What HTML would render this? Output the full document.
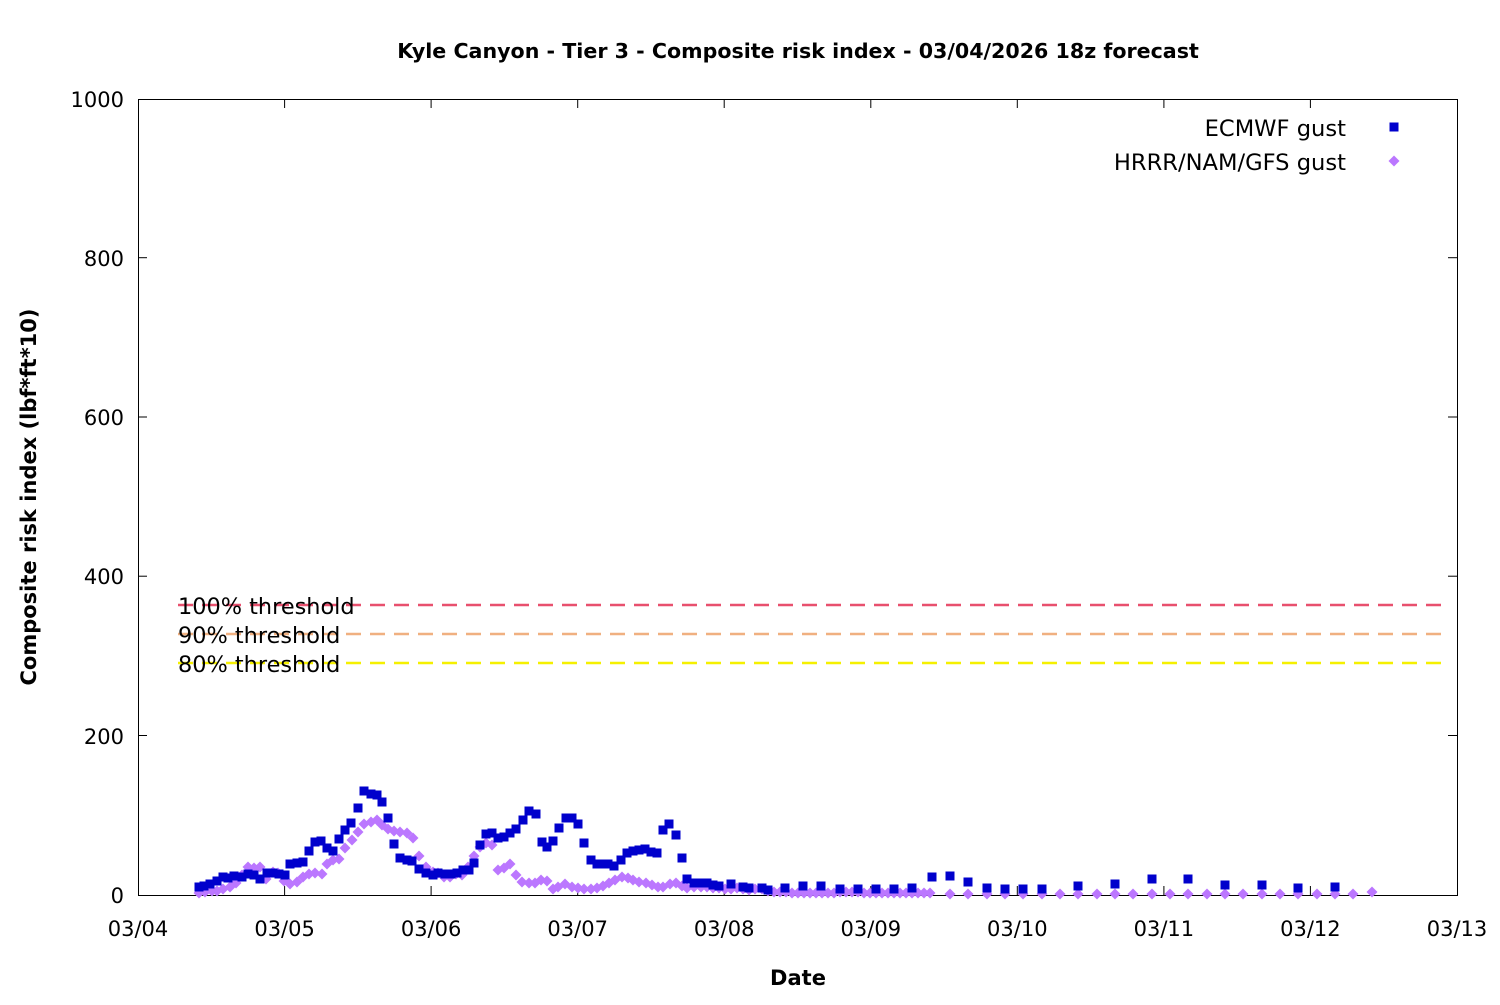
<!DOCTYPE html>
<html><head><meta charset="utf-8"><style>
html,body{margin:0;padding:0;background:#fff}
svg text{font-family:"DejaVu Sans","Liberation Sans",sans-serif}
</style></head><body>
<svg width="1500" height="1000" xmlns="http://www.w3.org/2000/svg">
<defs>
<rect id="s" x="-4.5" y="-4.5" width="9" height="9" fill="#0000cc"/>
<polygon id="d" points="0,-5.5 5.5,0 0,5.5 -5.5,0" fill="#bb77ff"/>
</defs>
<text x="798" y="58" text-anchor="middle" font-size="20.6" font-weight="bold">Kyle Canyon - Tier 3 - Composite risk index - 03/04/2026 18z forecast</text>
<rect x="138.5" y="99.5" width="1319" height="796" fill="none" stroke="#000" stroke-width="1"/>
<g stroke="#000" stroke-width="1">
<line x1="138" y1="257.7" x2="147" y2="257.7"/><line x1="1448" y1="257.7" x2="1457" y2="257.7"/>
<line x1="138" y1="417" x2="147" y2="417"/><line x1="1448" y1="417" x2="1457" y2="417"/>
<line x1="138" y1="576.2" x2="147" y2="576.2"/><line x1="1448" y1="576.2" x2="1457" y2="576.2"/>
<line x1="138" y1="735.5" x2="147" y2="735.5"/><line x1="1448" y1="735.5" x2="1457" y2="735.5"/>
<line x1="284.6" y1="886" x2="284.6" y2="895"/><line x1="284.6" y1="99" x2="284.6" y2="108"/>
<line x1="431.1" y1="886" x2="431.1" y2="895"/><line x1="431.1" y1="99" x2="431.1" y2="108"/>
<line x1="577.7" y1="886" x2="577.7" y2="895"/><line x1="577.7" y1="99" x2="577.7" y2="108"/>
<line x1="724.2" y1="886" x2="724.2" y2="895"/><line x1="724.2" y1="99" x2="724.2" y2="108"/>
<line x1="870.8" y1="886" x2="870.8" y2="895"/><line x1="870.8" y1="99" x2="870.8" y2="108"/>
<line x1="1017.3" y1="886" x2="1017.3" y2="895"/><line x1="1017.3" y1="99" x2="1017.3" y2="108"/>
<line x1="1163.9" y1="886" x2="1163.9" y2="895"/><line x1="1163.9" y1="99" x2="1163.9" y2="108"/>
<line x1="1310.4" y1="886" x2="1310.4" y2="895"/><line x1="1310.4" y1="99" x2="1310.4" y2="108"/>
</g>
<g font-size="21" text-anchor="end">
<text x="124" y="107">1000</text><text x="124" y="266">800</text><text x="124" y="425">600</text>
<text x="124" y="584">400</text><text x="124" y="744">200</text><text x="124" y="903">0</text>
</g>
<g font-size="21" text-anchor="middle">
<text x="138" y="936">03/04</text><text x="284.6" y="936">03/05</text><text x="431.1" y="936">03/06</text>
<text x="577.7" y="936">03/07</text><text x="724.2" y="936">03/08</text><text x="870.8" y="936">03/09</text>
<text x="1017.3" y="936">03/10</text><text x="1163.9" y="936">03/11</text><text x="1310.4" y="936">03/12</text>
<text x="1457" y="936">03/13</text>
</g>
<text x="798" y="985" text-anchor="middle" font-size="21" font-weight="bold">Date</text>
<text transform="translate(36,497) rotate(-90)" text-anchor="middle" font-size="21" font-weight="bold">Composite risk index (lbf*ft*10)</text>
<g font-size="22.6" text-anchor="end">
<text x="1346" y="136">ECMWF gust</text><text x="1346" y="170">HRRR/NAM/GFS gust</text>
</g>
<use href="#s" x="1394" y="127"/><use href="#d" x="1394" y="161"/>
<g stroke-width="2.5" stroke-dasharray="15,9" fill="none">
<line x1="178" y1="605" x2="1442" y2="605" stroke="#e8506e"/>
<line x1="178" y1="634" x2="1442" y2="634" stroke="#f0b080"/>
<line x1="178" y1="663" x2="1442" y2="663" stroke="#f5f000"/>
</g>
<g font-size="22.4">
<text x="178" y="614">100% threshold</text><text x="178" y="643">90% threshold</text><text x="178" y="672">80% threshold</text>
</g>
<g>
<use href="#d" x="199" y="893"/><use href="#d" x="205" y="892"/><use href="#d" x="212" y="891"/><use href="#d" x="217" y="891"/><use href="#d" x="223" y="889"/><use href="#d" x="230" y="887"/><use href="#d" x="236" y="883"/><use href="#d" x="242" y="875"/><use href="#d" x="248" y="867"/><use href="#d" x="254" y="868"/><use href="#d" x="260" y="867"/><use href="#d" x="266" y="879"/><use href="#d" x="273" y="872"/><use href="#d" x="278" y="873"/><use href="#d" x="284" y="881"/><use href="#d" x="290" y="884"/><use href="#d" x="297" y="882"/><use href="#d" x="303" y="877"/><use href="#d" x="309" y="874"/><use href="#d" x="315" y="873"/><use href="#d" x="322" y="874"/><use href="#d" x="327" y="864"/><use href="#d" x="333" y="860"/><use href="#d" x="339" y="859"/><use href="#d" x="345" y="848"/><use href="#d" x="352" y="840"/><use href="#d" x="358" y="832"/><use href="#d" x="364" y="824"/><use href="#d" x="371" y="822"/><use href="#d" x="377" y="820"/><use href="#d" x="382" y="825"/><use href="#d" x="388" y="829"/><use href="#d" x="394" y="831"/><use href="#d" x="400" y="832"/><use href="#d" x="407" y="833"/><use href="#d" x="413" y="838"/><use href="#d" x="419" y="856"/><use href="#d" x="426" y="867"/><use href="#d" x="433" y="872"/>
<use href="#d" x="438" y="873"/><use href="#d" x="444" y="877"/><use href="#d" x="450" y="877"/><use href="#d" x="456" y="874"/><use href="#d" x="462" y="875"/><use href="#d" x="468" y="867"/><use href="#d" x="474" y="856"/><use href="#d" x="480" y="847"/><use href="#d" x="486" y="843"/><use href="#d" x="492" y="845"/><use href="#d" x="498" y="870"/><use href="#d" x="504" y="868"/><use href="#d" x="510" y="864"/><use href="#d" x="516" y="875"/><use href="#d" x="522" y="882"/><use href="#d" x="529" y="883"/><use href="#d" x="535" y="883"/><use href="#d" x="541" y="880"/><use href="#d" x="547" y="881"/><use href="#d" x="553" y="889"/><use href="#d" x="558" y="887"/><use href="#d" x="565" y="884"/><use href="#d" x="572" y="887"/><use href="#d" x="578" y="888"/><use href="#d" x="584" y="889"/><use href="#d" x="591" y="889"/><use href="#d" x="597" y="888"/><use href="#d" x="603" y="886"/><use href="#d" x="609" y="883"/><use href="#d" x="615" y="880"/><use href="#d" x="622" y="877"/><use href="#d" x="628" y="878"/><use href="#d" x="633" y="880"/><use href="#d" x="639" y="882"/><use href="#d" x="646" y="883"/><use href="#d" x="652" y="885"/><use href="#d" x="658" y="887"/><use href="#d" x="663" y="887"/><use href="#d" x="670" y="884"/><use href="#d" x="676" y="883"/><use href="#d" x="682" y="886"/><use href="#d" x="687" y="888"/><use href="#d" x="694" y="887"/><use href="#d" x="701" y="887"/><use href="#d" x="707" y="887"/>
<use href="#d" x="713" y="888"/><use href="#d" x="719" y="888"/><use href="#d" x="725" y="889"/><use href="#d" x="731" y="889"/><use href="#d" x="737" y="888"/><use href="#d" x="743" y="889"/><use href="#d" x="749" y="890"/><use href="#d" x="755" y="889"/><use href="#d" x="762" y="889"/><use href="#d" x="768" y="891"/><use href="#d" x="774" y="892"/><use href="#d" x="780" y="892"/><use href="#d" x="786" y="892"/><use href="#d" x="792" y="893"/><use href="#d" x="798" y="893"/><use href="#d" x="804" y="893"/><use href="#d" x="810" y="893"/><use href="#d" x="816" y="893"/><use href="#d" x="822" y="893"/><use href="#d" x="828" y="893"/><use href="#d" x="834" y="893"/><use href="#d" x="840" y="892"/><use href="#d" x="846" y="892"/><use href="#d" x="852" y="892"/><use href="#d" x="858" y="892"/><use href="#d" x="864" y="893"/><use href="#d" x="870" y="893"/><use href="#d" x="876" y="893"/><use href="#d" x="882" y="893"/><use href="#d" x="888" y="893"/><use href="#d" x="894" y="893"/><use href="#d" x="900" y="893"/><use href="#d" x="906" y="893"/><use href="#d" x="912" y="893"/><use href="#d" x="918" y="893"/><use href="#d" x="924" y="893"/><use href="#d" x="930" y="893"/>
<use href="#d" x="950" y="894"/><use href="#d" x="968" y="894"/><use href="#d" x="987" y="894"/><use href="#d" x="1005" y="894"/><use href="#d" x="1023" y="894"/><use href="#d" x="1042" y="894"/><use href="#d" x="1060" y="894"/><use href="#d" x="1078" y="894"/><use href="#d" x="1097" y="894"/><use href="#d" x="1115" y="894"/><use href="#d" x="1133" y="894"/><use href="#d" x="1152" y="894"/><use href="#d" x="1170" y="894"/><use href="#d" x="1188" y="894"/><use href="#d" x="1207" y="894"/><use href="#d" x="1225" y="894"/><use href="#d" x="1243" y="894"/><use href="#d" x="1262" y="894"/><use href="#d" x="1280" y="894"/><use href="#d" x="1298" y="894"/><use href="#d" x="1317" y="894"/><use href="#d" x="1335" y="894"/><use href="#d" x="1353" y="894"/><use href="#d" x="1372" y="892"/>
</g>
<g>
<use href="#s" x="199" y="887"/><use href="#s" x="204" y="886"/><use href="#s" x="210" y="884"/><use href="#s" x="217" y="881"/><use href="#s" x="223" y="877"/><use href="#s" x="228" y="878"/><use href="#s" x="234" y="876"/><use href="#s" x="242" y="877"/><use href="#s" x="248" y="874"/><use href="#s" x="254" y="875"/><use href="#s" x="260" y="879"/><use href="#s" x="267" y="873"/><use href="#s" x="273" y="873"/><use href="#s" x="279" y="874"/><use href="#s" x="285" y="875"/><use href="#s" x="290" y="864"/><use href="#s" x="297" y="863"/><use href="#s" x="303" y="862"/><use href="#s" x="309" y="851"/><use href="#s" x="315" y="842"/><use href="#s" x="321" y="841"/><use href="#s" x="327" y="848"/><use href="#s" x="333" y="851"/><use href="#s" x="339" y="839"/><use href="#s" x="345" y="830"/><use href="#s" x="351" y="823"/><use href="#s" x="358" y="808"/><use href="#s" x="364" y="791"/><use href="#s" x="371" y="794"/><use href="#s" x="377" y="795"/><use href="#s" x="382" y="802"/><use href="#s" x="388" y="818"/><use href="#s" x="394" y="844"/><use href="#s" x="400" y="858"/><use href="#s" x="407" y="860"/><use href="#s" x="412" y="861"/><use href="#s" x="419" y="869"/><use href="#s" x="426" y="873"/><use href="#s" x="433" y="875"/>
<use href="#s" x="438" y="873"/><use href="#s" x="445" y="874"/><use href="#s" x="451" y="874"/><use href="#s" x="457" y="873"/><use href="#s" x="463" y="870"/><use href="#s" x="469" y="870"/><use href="#s" x="474" y="863"/><use href="#s" x="480" y="845"/><use href="#s" x="486" y="834"/><use href="#s" x="492" y="833"/><use href="#s" x="498" y="838"/><use href="#s" x="504" y="837"/><use href="#s" x="510" y="833"/><use href="#s" x="516" y="829"/><use href="#s" x="523" y="820"/><use href="#s" x="529" y="811"/><use href="#s" x="536" y="814"/><use href="#s" x="542" y="842"/><use href="#s" x="547" y="847"/><use href="#s" x="553" y="841"/><use href="#s" x="559" y="828"/><use href="#s" x="566" y="818"/><use href="#s" x="572" y="818"/><use href="#s" x="578" y="824"/><use href="#s" x="584" y="843"/><use href="#s" x="591" y="860"/><use href="#s" x="597" y="864"/><use href="#s" x="603" y="864"/><use href="#s" x="608" y="864"/><use href="#s" x="614" y="866"/><use href="#s" x="621" y="860"/><use href="#s" x="627" y="853"/><use href="#s" x="633" y="851"/><use href="#s" x="639" y="850"/><use href="#s" x="645" y="849"/><use href="#s" x="651" y="852"/><use href="#s" x="657" y="853"/><use href="#s" x="663" y="830"/><use href="#s" x="669" y="824"/><use href="#s" x="676" y="835"/><use href="#s" x="682" y="858"/><use href="#s" x="687" y="879"/><use href="#s" x="694" y="883"/><use href="#s" x="701" y="883"/><use href="#s" x="707" y="883"/>
<use href="#s" x="713" y="885"/><use href="#s" x="719" y="886"/><use href="#s" x="731" y="884"/><use href="#s" x="743" y="887"/><use href="#s" x="749" y="888"/><use href="#s" x="762" y="888"/><use href="#s" x="768" y="890"/>
<use href="#s" x="785" y="888"/><use href="#s" x="803" y="886"/><use href="#s" x="821" y="886"/><use href="#s" x="840" y="889"/><use href="#s" x="858" y="889"/><use href="#s" x="876" y="889"/><use href="#s" x="894" y="889"/><use href="#s" x="912" y="888"/><use href="#s" x="932" y="877"/><use href="#s" x="950" y="876"/><use href="#s" x="968" y="882"/><use href="#s" x="987" y="888"/><use href="#s" x="1005" y="889"/><use href="#s" x="1023" y="889"/><use href="#s" x="1042" y="889"/><use href="#s" x="1078" y="886"/><use href="#s" x="1115" y="884"/><use href="#s" x="1152" y="879"/><use href="#s" x="1188" y="879"/><use href="#s" x="1225" y="885"/><use href="#s" x="1262" y="885"/><use href="#s" x="1298" y="888"/><use href="#s" x="1335" y="887"/>
</g>
</svg>
</body></html>
